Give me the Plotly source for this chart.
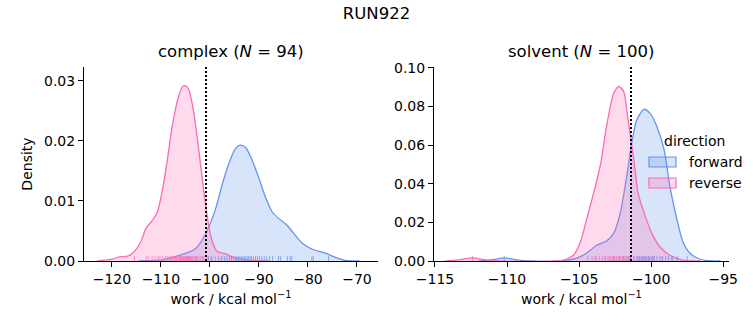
import plotly.graph_objects as go
from plotly.subplots import make_subplots

# ---------------- data ----------------
suptitle = "RUN922"
panel_titles = ["complex (<i>N</i> = 94)", "solvent (<i>N</i> = 100)"]
directions = ["forward", "reverse"]
legend_title = "direction"

# KDE curves: complex
cx_fwd_x = [-114.5, -113.8, -109.7, -104.9, -102.9, -101.6, -100.2, -98.8, -97.5, -96.1,
            -94.8, -93.8, -92.7, -91.4, -90.0, -88.7, -87.3, -86.0, -84.3, -82.9,
            -81.2, -79.2, -76.4, -74.4, -72.4, -70.3, -69.5]
cx_fwd_y = [0.0, 0.00005, 0.0002, 0.0013, 0.0021, 0.0035, 0.0057, 0.0088, 0.0127, 0.0163,
            0.0187, 0.0193, 0.0189, 0.0168, 0.0138, 0.0107, 0.0082, 0.0071, 0.0060, 0.0046,
            0.0030, 0.0020, 0.0013, 0.0006, 0.0001, 0.0, 0.0]
cx_rev_x = [-123.0, -122.4, -119.9, -118.5, -116.8, -115.4, -114.1, -113.1, -111.7, -110.7,
            -109.7, -108.7, -107.7, -106.6, -105.6, -105.1, -104.3, -103.3, -102.2, -101.2,
            -100.2, -99.5, -98.5, -96.8, -95.5, -92.7, -88.7, -88.0]
cx_rev_y = [0.0, 0.00005, 0.0003, 0.0007, 0.0008, 0.0016, 0.0032, 0.0054, 0.0068, 0.0082,
            0.0118, 0.0168, 0.0224, 0.0268, 0.0290, 0.0292, 0.0285, 0.0247, 0.0180, 0.0113,
            0.0057, 0.0032, 0.0016, 0.0012, 0.0007, 0.0002, 0.0, 0.0]

# KDE curves: solvent
sv_fwd_x = [-112.0, -111.1, -110.2, -109.3, -108.5, -106.3, -105.2, -104.5, -103.8, -103.1,
            -102.6, -102.15, -101.7, -101.35, -101.0, -100.5, -100.07, -99.6, -99.1, -98.7,
            -98.2, -97.8, -97.3, -96.6, -95.7, -95.2]
sv_fwd_y = [0.0, 0.0006, 0.0016, 0.0006, 0.0, 0.0, 0.0014, 0.0040, 0.0080, 0.0104,
            0.0143, 0.0247, 0.0437, 0.0610, 0.0730, 0.0786, 0.0765, 0.0696, 0.0575, 0.0385,
            0.0212, 0.0100, 0.0040, 0.0009, 0.0, 0.0]
sv_rev_x = [-114.3, -113.4, -112.4, -111.5, -110.7, -106.6, -105.9, -105.4, -104.9, -104.5,
            -104.0, -103.5, -103.1, -102.6, -102.24, -101.9, -101.6, -101.2, -100.9, -100.4,
            -99.95, -99.4, -98.7, -97.8, -97.1, -96.6]
sv_rev_y = [0.0, 0.0006, 0.0016, 0.0006, 0.0, 0.0, 0.0009, 0.0030, 0.0100, 0.0210,
            0.0350, 0.0506, 0.0696, 0.0869, 0.0905, 0.0877, 0.0730, 0.0523, 0.0350, 0.0230,
            0.0143, 0.0074, 0.0030, 0.0005, 0.0, 0.0]

# individual work values (rug)
cx_fwd_rug = [-104.5, -102.8, -101.5, -100.3, -99.6, -98.2, -97.6, -97.0, -96.5, -96.0,
              -95.6, -95.2, -94.8, -94.5, -94.2, -93.9, -93.6, -93.3, -93.0, -92.7,
              -92.4, -92.1, -91.8, -91.5, -91.1, -90.7, -90.3, -89.9, -89.4, -88.9,
              -88.4, -87.8, -87.2, -86.0, -85.6, -84.2, -83.6, -83.3, -79.2, -78.9, -75.8]
cx_rev_rug = [-115.4, -113.0, -112.6, -111.8, -111.2, -110.6, -110.2, -109.6, -109.1, -108.7,
              -108.3, -108.0, -107.6, -107.3, -107.0, -106.8, -106.5, -106.2, -106.0, -105.8,
              -105.6, -105.4, -105.2, -105.0, -104.8, -104.6, -104.4, -104.2, -104.0, -103.8,
              -103.6, -103.3, -103.0, -102.7, -102.4, -102.0, -101.6, -101.2, -100.6, -99.8,
              -98.9, -97.6, -96.0]
sv_fwd_rug = [-110.2, -103.9, -103.2, -102.6, -102.2, -101.9, -101.6, -101.4, -101.2, -101.0,
              -100.9, -100.8, -100.7, -100.6, -100.5, -100.4, -100.3, -100.2, -100.1, -100.0,
              -99.9, -99.8, -99.6, -99.4, -99.2, -99.0, -98.8, -98.5, -98.2, -97.5]
sv_rev_rug = [-112.4, -104.4, -104.1, -103.8, -103.6, -103.4, -103.2, -103.0, -102.9, -102.8,
              -102.7, -102.6, -102.5, -102.4, -102.3, -102.2, -102.1, -102.0, -101.9, -101.8,
              -101.7, -101.6, -101.5, -101.4, -101.2, -101.0, -100.8, -100.5, -100.2, -99.8,
              -99.3, -98.6]

# free energy estimates (dotted lines)
dg_estimates = [-100.8, -101.4]

# axis settings
x_ranges = [[-125.7, -65.7], [-115.07, -94.6]]
x_dticks = [10, 5]
y_ranges = [[0, 0.0323], [0, 0.1005]]
y_dticks = [0.01, 0.02]
x_label = "work / kcal mol<sup>−1</sup>"
y_label = "Density"

# ---------------- styles ----------------
line_col = {"forward": "rgb(100,149,237)", "reverse": "rgb(255,105,180)"}
fill_col = {"forward": "rgba(100,149,237,0.25)", "reverse": "rgba(255,105,180,0.25)"}
rug_col = {"forward": "rgba(100,149,237,0.75)", "reverse": "rgba(255,105,180,0.75)"}
FONT = "DejaVu Sans"
W, H = 753, 325
ML, MR, MT, MB = 84, 24, 67, 64

fig = make_subplots(rows=1, cols=2)
d1 = [0.0, 0.4558]
d2 = [0.5426, 1.0]

panels = [
    {"forward": (cx_fwd_x, cx_fwd_y, cx_fwd_rug), "reverse": (cx_rev_x, cx_rev_y, cx_rev_rug)},
    {"forward": (sv_fwd_x, sv_fwd_y, sv_fwd_rug), "reverse": (sv_rev_x, sv_rev_y, sv_rev_rug)},
]

for i, pdata in enumerate(panels):
    col = i + 1
    for d in directions:
        xs, ys, rug = pdata[d]
        fig.add_trace(go.Scatter(
            x=xs, y=ys, mode="lines", name=d, legendgroup=d, showlegend=False,
            line=dict(color=line_col[d], width=1.3, shape="spline", smoothing=0.7),
            fill="tozeroy", fillcolor=fill_col[d], hoverinfo="skip"),
            row=1, col=col)
    for d in directions:
        xs, ys, rug = pdata[d]
        h = 0.025 * y_ranges[i][1]
        rx, ry = [], []
        for v in rug:
            rx += [v, v, None]
            ry += [0, h, None]
        fig.add_trace(go.Scatter(
            x=rx, y=ry, mode="lines", showlegend=False, legendgroup=d,
            line=dict(color=rug_col[d], width=1), hoverinfo="skip"),
            row=1, col=col)
    fig.add_vline(x=dg_estimates[i], line=dict(color="black", width=2, dash="2px,2px"),
                  row=1, col=col)

axis_common = dict(showline=True, linecolor="black", linewidth=1, ticks="outside",
                   ticklen=5, tickwidth=1, tickcolor="black", showgrid=False,
                   zeroline=False, automargin=False,
                   tickfont=dict(family=FONT, size=14, color="black"))

for i in range(2):
    fig.update_xaxes(range=x_ranges[i], dtick=x_dticks[i], tick0=0,
                     title=dict(text=x_label, font=dict(family=FONT, size=14, color="black"),
                                standoff=8),
                     row=1, col=i + 1, **axis_common)
    fig.update_yaxes(range=y_ranges[i], dtick=y_dticks[i], tick0=0, tickformat=".2f",
                     row=1, col=i + 1, **axis_common)

fig.update_layout(xaxis=dict(domain=d1), xaxis2=dict(domain=d2))
fig.update_yaxes(title=dict(text=y_label, font=dict(family=FONT, size=14, color="black"),
                            standoff=8), row=1, col=1)

for i, dom in enumerate([d1, d2]):
    fig.add_annotation(text=panel_titles[i], xref="paper", yref="paper",
                       x=(dom[0] + dom[1]) / 2, y=1, yshift=4, xanchor="center",
                       yanchor="bottom", showarrow=False,
                       font=dict(family=FONT, size=16.5, color="black"))

# legend (drawn as patches with border, like matplotlib)
pw, ph = W - ML - MR, H - MT - MB
def px(xp):
    return (xp - ML) / pw
def py(yp):
    return (H - MB - yp) / ph

fig.add_annotation(text=legend_title, xref="paper", yref="paper", x=px(694), y=py(141),
                   xanchor="center", yanchor="middle", showarrow=False,
                   font=dict(family=FONT, size=14, color="black"))
for k, d in enumerate(directions):
    yc = 162 + 21 * k
    fig.add_shape(type="rect", xref="paper", yref="paper",
                  x0=px(649), x1=px(676), y0=py(yc - 5), y1=py(yc + 5),
                  fillcolor=fill_col[d], line=dict(color=line_col[d], width=1.2))
    fig.add_annotation(text=d, xref="paper", yref="paper", x=px(687), y=py(yc),
                       xanchor="left", yanchor="middle", showarrow=False,
                       font=dict(family=FONT, size=14, color="black"))

fig.update_layout(
    width=W, height=H,
    margin=dict(l=ML, r=MR, t=MT, b=MB, autoexpand=False),
    paper_bgcolor="white", plot_bgcolor="white",
    title=dict(text=suptitle, x=0.5, xanchor="center", y=1 - 13 / H, yanchor="middle",
               font=dict(family=FONT, size=16.5, color="black")),
    font=dict(family=FONT, color="black"),
    showlegend=False,
)

fig.write_html("out.html", config={"displayModeBar": False},
               post_script="document.body.style.margin='0';document.body.style.overflow='hidden';")
